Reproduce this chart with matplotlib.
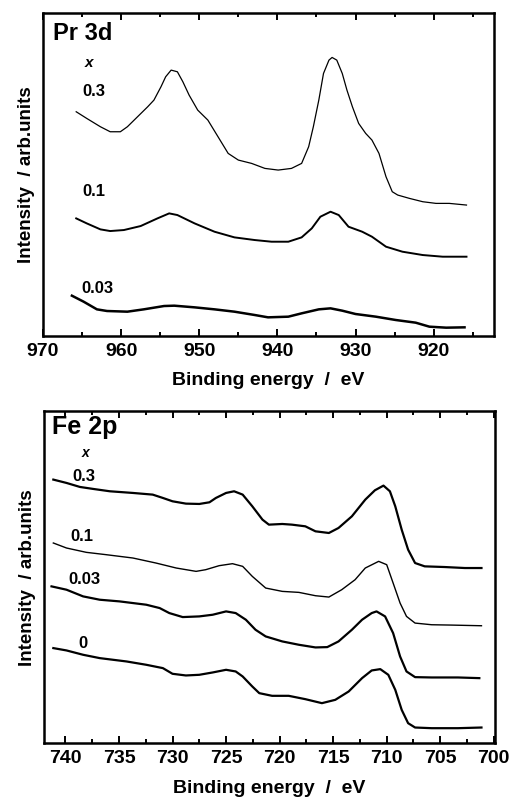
import numpy as np
import matplotlib
matplotlib.use("Agg")
import matplotlib.pyplot as plt
from matplotlib.ticker import MultipleLocator

plt.rcParams['font.family'] = ['Liberation Sans', 'DejaVu Sans']
plt.rcParams['font.weight'] = 'bold'

# ---- Pr 3d spectra (binding energy in eV, intensity in arb. units)
pr_e_03 = [965.75, 964.4, 962.65, 961.4, 960.1, 959.2, 957.9, 956.6, 955.8, 954.9,
           954.3, 953.6, 952.8, 952.1, 951.3, 950.2, 948.9, 947.6, 946.3, 945.0,
           943.3, 941.6, 939.9, 938.2, 936.9, 936.0, 935.4, 934.7, 934.1, 933.4,
           933.0, 932.4, 931.7, 931.1, 930.4, 929.6, 928.7, 927.9, 927.0, 926.1,
           925.3, 924.6, 923.1, 921.4, 919.7, 918.0, 915.8]
pr_i_03 = [67.3, 65.3, 62.8, 61.3, 61.3, 62.8, 65.8, 68.8, 70.8, 74.8,
           77.8, 79.8, 79.3, 76.3, 72.3, 67.8, 64.8, 59.8, 54.8, 52.8,
           51.8, 50.3, 49.8, 50.3, 51.8, 56.8, 62.8, 70.8, 78.8, 82.8,
           83.6, 82.8, 78.8, 73.8, 68.8, 63.8, 60.8, 58.8, 54.8, 47.8,
           43.3, 42.3, 41.3, 40.3, 39.8, 39.8, 39.3]

pr_e_01 = [965.75, 964.4, 962.65, 961.4, 959.65, 957.5, 955.35, 953.85, 952.8, 950.6,
           948.05, 945.5, 942.9, 940.75, 938.6, 936.9, 935.6, 934.5, 933.2, 932.15,
           930.9, 929.15, 927.9, 926.1, 924.0, 921.4, 918.85, 915.8]
pr_i_01 = [35.3, 33.8, 32.0, 31.5, 31.8, 33.0, 35.3, 36.8, 36.3, 33.8,
           31.3, 29.6, 28.8, 28.3, 28.3, 29.6, 32.3, 35.8, 37.3, 36.3,
           32.8, 31.3, 29.8, 26.8, 25.3, 24.3, 23.8, 23.8]

pr_e_003 = [966.3, 964.8, 963.1, 961.8, 959.2, 957.1, 954.5, 953.2, 950.6, 948.05,
            945.5, 942.9, 941.2, 938.6, 936.9, 934.7, 933.2, 931.7, 930.0, 927.4,
            924.85, 922.3, 920.55, 918.4, 916.05]
pr_i_003 = [12.1, 10.3, 8.0, 7.5, 7.3, 8.0, 9.0, 9.1, 8.6, 8.0,
            7.3, 6.3, 5.6, 5.8, 6.8, 8.0, 8.3, 7.6, 6.6, 5.8,
            4.8, 4.0, 2.8, 2.5, 2.6]

# ---- Fe 2p spectra
fe_e_03 = [741.13, 739.9, 738.65, 737.4, 735.85, 733.7, 731.85, 730.9, 730.0, 728.75,
           727.5, 726.55, 725.95, 725.0, 724.25, 723.45, 722.55, 721.6, 721.0, 719.75,
           718.85, 717.6, 716.65, 715.4, 714.5, 713.25, 712.0, 711.1, 710.3, 709.7,
           709.2, 708.6, 708.0, 707.35, 706.45, 704.6, 702.7, 701.15]
fe_i_03 = [79.0, 78.0, 76.8, 76.2, 75.5, 75.0, 74.5, 73.5, 72.5, 71.8,
           71.7, 72.2, 73.5, 75.0, 75.5, 74.5, 71.0, 67.0, 65.5, 65.7,
           65.5, 65.0, 63.5, 63.0, 64.5, 68.0, 73.0, 75.8, 77.2, 75.5,
           71.0, 64.0, 58.0, 54.0, 53.0, 52.8, 52.5, 52.5]

fe_e_01 = [741.13, 739.9, 738.05, 736.2, 733.7, 731.55, 729.65, 727.8, 726.9, 725.65,
           724.4, 723.45, 722.55, 721.3, 719.75, 718.2, 716.65, 715.4, 714.2, 712.95,
           712.0, 710.75, 710.0, 709.4, 708.75, 708.15, 707.35, 705.8, 703.95, 701.15]
fe_i_01 = [60.0, 58.5, 57.2, 56.5, 55.5, 54.0, 52.5, 51.5, 52.0, 53.2,
           53.8, 53.0, 50.0, 46.5, 45.5, 45.2, 44.2, 43.8, 46.0, 49.0,
           52.5, 54.5, 53.5, 48.0, 42.0, 38.0, 36.0, 35.5, 35.4, 35.2]

fe_e_003 = [741.3, 739.9, 738.35, 736.8, 734.95, 732.45, 731.2, 730.3, 729.05, 727.5,
            726.25, 725.0, 724.1, 723.15, 722.25, 721.3, 719.75, 718.2, 716.65, 715.55,
            714.5, 713.25, 712.3, 711.4, 710.95, 710.15, 709.4, 708.75, 708.15, 707.35,
            705.8, 703.35, 701.35]
fe_i_003 = [47.0, 46.0, 44.0, 43.0, 42.5, 41.5, 40.5, 39.0, 37.8, 38.0,
            38.5, 39.5, 39.0, 37.0, 34.0, 32.0, 30.5, 29.5, 28.7, 28.8,
            30.5, 34.0, 37.0, 39.0, 39.5, 38.0, 33.0, 26.0, 21.5, 19.8,
            19.7, 19.7, 19.5]

fe_e_0 = [741.13, 739.9, 738.35, 736.8, 734.3, 732.45, 730.9, 730.0, 728.75, 727.5,
          726.25, 725.0, 724.1, 723.45, 722.55, 721.9, 720.7, 719.15, 717.6, 716.05,
          714.8, 713.55, 712.3, 711.4, 710.6, 709.85, 709.2, 708.6, 708.0, 707.35,
          705.8, 703.35, 701.15]
fe_i_0 = [28.5, 27.8, 26.5, 25.5, 24.5, 23.5, 22.5, 20.8, 20.3, 20.5,
          21.2, 22.0, 21.5, 20.0, 17.0, 15.0, 14.2, 14.2, 13.2, 12.0,
          13.0, 15.5, 19.5, 21.8, 22.2, 20.5, 16.0, 10.0, 6.0, 4.7,
          4.5, 4.5, 4.7]

pr_labels = ["0.3", "0.1", "0.03"]
fe_labels = ["0.3", "0.1", "0.03", "0"]


def style_axis(ax, major, minor):
    ax.xaxis.set_major_locator(MultipleLocator(major))
    ax.xaxis.set_minor_locator(MultipleLocator(minor))
    ax.tick_params(axis='x', which='both', direction='in', top=True, bottom=True,
                   width=1.4, labelsize=14, pad=5)
    ax.tick_params(axis='x', which='major', length=5)
    ax.tick_params(axis='x', which='minor', length=3)
    ax.set_yticks([])
    for s in ax.spines.values():
        s.set_linewidth(1.8)
    for lab in ax.get_xticklabels():
        lab.set_fontweight('bold')
    ax.set_xlabel("Binding energy  /  eV", fontsize=14, fontweight='bold', labelpad=9)
    ax.set_ylabel("Intensity  / arb.units", fontsize=13.5, fontweight='bold', labelpad=6)


fig = plt.figure(figsize=(5.1, 8.0), dpi=100)

# top panel: Pr 3d
ax1 = fig.add_axes([0.0843, 0.58, 0.884, 0.404])
ax1.plot(pr_e_03, pr_i_03, color='black', lw=0.9)
ax1.plot(pr_e_01, pr_i_01, color='black', lw=1.4)
ax1.plot(pr_e_003, pr_i_003, color='black', lw=1.8)
ax1.set_xlim(970, 912.3)
ax1.set_ylim(0, 97)
style_axis(ax1, 10, 5)
ax1.text(0.022, 0.97, "Pr 3d", transform=ax1.transAxes, fontsize=17,
         fontweight='bold', va='top', ha='left')
ax1.text(0.102, 0.845, "x", transform=ax1.transAxes, fontsize=11,
         fontweight='bold', style='italic', ha='center', va='center')
for lab, xx, yy in zip(pr_labels, [963.5, 963.5, 963.0], [73.5, 43.3, 14.3]):
    ax1.text(xx, yy, lab, fontsize=12, fontweight='bold', ha='center', va='center')

# bottom panel: Fe 2p
ax2 = fig.add_axes([0.0863, 0.071, 0.884, 0.415])
ax2.plot(fe_e_03, fe_i_03, color='black', lw=1.6)
ax2.plot(fe_e_01, fe_i_01, color='black', lw=1.0)
ax2.plot(fe_e_003, fe_i_003, color='black', lw=1.6)
ax2.plot(fe_e_0, fe_i_0, color='black', lw=1.6)
ax2.set_xlim(742, 699.9)
ax2.set_ylim(0, 99.5)
style_axis(ax2, 5, 2.5)
ax2.text(0.018, 0.99, "Fe 2p", transform=ax2.transAxes, fontsize=18,
         fontweight='bold', va='top', ha='left')
ax2.text(0.092, 0.875, "x", transform=ax2.transAxes, fontsize=10,
         fontweight='bold', style='italic', ha='center', va='center')
for lab, xx, yy in zip(fe_labels, [738.3, 738.5, 738.2, 738.4], [80.0, 62.0, 49.0, 30.0]):
    ax2.text(xx, yy, lab, fontsize=12, fontweight='bold', ha='center', va='center')

fig.savefig("out.png", dpi=100)
